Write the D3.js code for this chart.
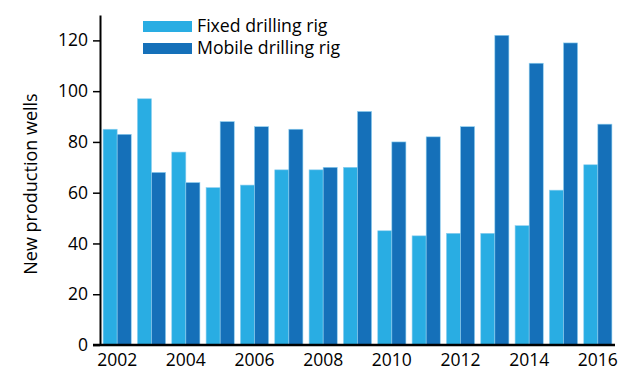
<!DOCTYPE html>
<html>
<head>
<meta charset="utf-8">
<script src="https://cdn.jsdelivr.net/npm/d3@7"></script>
<style>
  body { margin: 0; background: #fff; }
  text { font-family: "Open Sans", sans-serif; fill: #000; }
</style>
</head>
<body>
<div id="chart"></div>
<script>
var years = ["2002","2003","2004","2005","2006","2007","2008","2009","2010","2011","2012","2013","2014","2015","2016"];
var fixedRig = [85, 97, 76, 62, 63, 69, 69, 70, 45, 43, 44, 44, 47, 61, 71];
var mobileRig = [83, 68, 64, 88, 86, 85, 70, 92, 80, 82, 86, 122, 111, 119, 87];
var seriesNames = ["Fixed drilling rig", "Mobile drilling rig"];
var yTicks = [0, 20, 40, 60, 80, 100, 120];
var xLabels = ["2002","2004","2006","2008","2010","2012","2014","2016"];

var margin = {left: 100, top: 15, right: 20, bottom: 34},
    width = 635 - margin.left - margin.right,
    height = 379 - margin.top - margin.bottom;

var svg = d3.select("#chart").append("svg")
    .attr("width", 635)
    .attr("height", 379);

var g = svg.append("g")
    .attr("transform", "translate(" + margin.left + "," + margin.top + ")");

var x = d3.scaleBand().domain(years).range([0, width]).paddingInner(0.18).paddingOuter(0.09);
var xs = d3.scaleBand().domain([0, 1]).range([0, x.bandwidth()]);
var y = d3.scaleLinear().domain([0, 130]).range([height, 0]);
var colours = ["#29ADE3", "#1570B9"];

var data = years.map(function(yr, i) { return {year: yr, vals: [fixedRig[i], mobileRig[i]]}; });

var groups = g.selectAll(".grp")
    .data(data)
  .enter().append("g")
    .attr("class", "grp")
    .attr("transform", function(d) { return "translate(" + x(d.year) + ",0)"; });

groups.selectAll("rect")
    .data(function(d) { return d.vals; })
  .enter().append("rect")
    .attr("x", function(d, i) { return xs(i); })
    .attr("y", function(d) { return y(d); })
    .attr("width", xs.bandwidth())
    .attr("height", function(d) { return height - y(d); })
    .attr("fill", function(d, i) { return colours[i]; })
    .attr("stroke", "#8fd0f0")
    .attr("stroke-width", 0.6);

// y axis
var yAxis = g.append("g")
    .call(d3.axisLeft(y).tickValues(yTicks).tickSizeOuter(0).tickSizeInner(7).tickPadding(5));
yAxis.select(".domain").attr("stroke", "#000").attr("stroke-width", 2);
yAxis.selectAll(".tick line").attr("stroke", "#000").attr("stroke-width", 1.5);
yAxis.selectAll("text").style("font-size", "17.5px").attr("fill", "#000");

// x axis
var xAxis = g.append("g")
    .attr("transform", "translate(0," + height + ")")
    .call(d3.axisBottom(x).tickValues(xLabels).tickSize(0).tickPadding(9));
xAxis.select(".domain").attr("d", "M-7,0H" + width).attr("stroke", "#000").attr("stroke-width", 2.5);
xAxis.selectAll("text").style("font-size", "17.5px").attr("fill", "#000");

// y title
svg.append("text")
    .attr("transform", "translate(37," + (margin.top + height / 2 + 4) + ") rotate(-90)")
    .attr("text-anchor", "middle")
    .style("font-size", "18px")
    .text("New production wells");

// legend
var legend = svg.append("g").attr("transform", "translate(143,21)");
seriesNames.forEach(function(name, i) {
    legend.append("rect")
        .attr("x", 0).attr("y", i * 22)
        .attr("width", 49).attr("height", 11)
        .attr("fill", colours[i]);
    legend.append("text")
        .attr("x", 54).attr("y", i * 22 + 11)
        .style("font-size", "17.7px")
        .text(name);
});
</script>
</body>
</html>
